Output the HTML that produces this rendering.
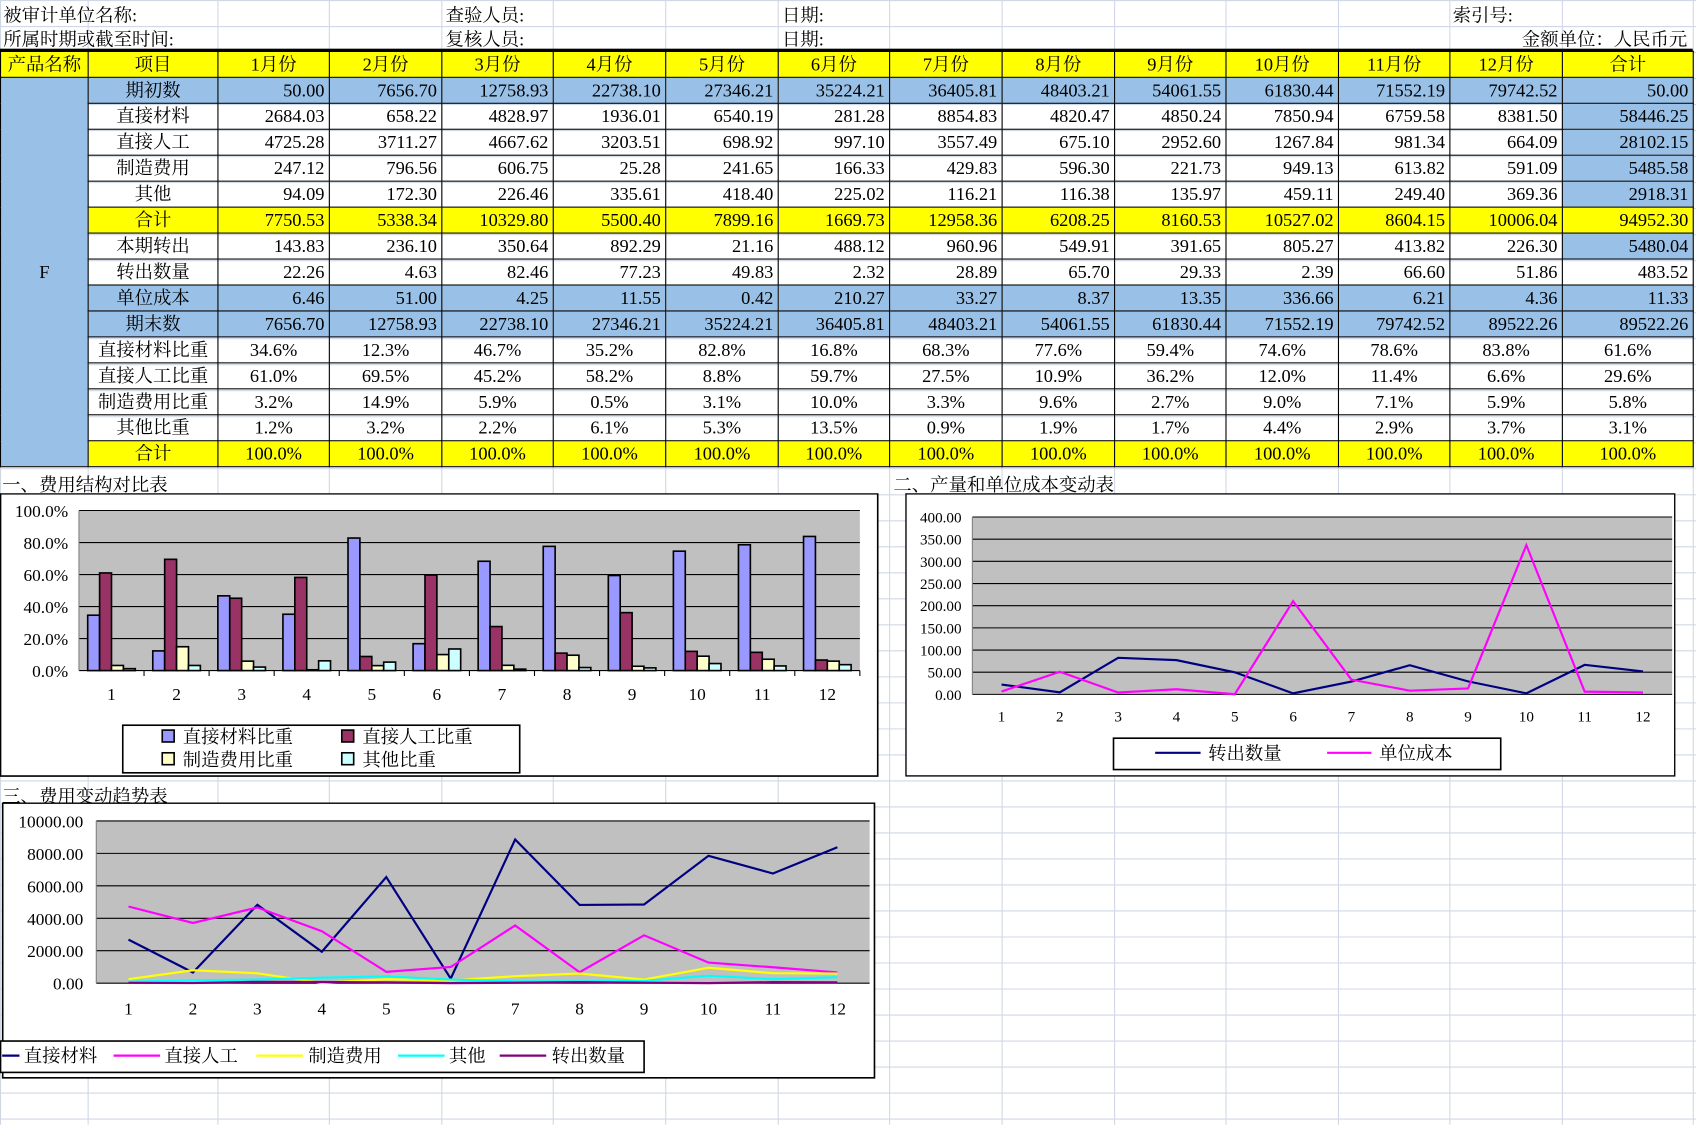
<!DOCTYPE html>
<html><head><meta charset="utf-8">
<style>
html,body{margin:0;padding:0;background:#fff;overflow:hidden;width:1696px;height:1125px}
#wrap{position:absolute;left:0;top:0;width:1568px;height:1040px;transform:scale(1.0816);transform-origin:0 0;font-family:"Liberation Serif","Noto Serif CJK SC",serif;font-size:17px;color:#000}
.abs{position:absolute;white-space:nowrap}
table{position:absolute;left:0;top:47px;border-collapse:collapse;table-layout:fixed}
td{border:1px solid #000;height:23px;padding:0 4px;font-size:17px;line-height:23px;overflow:hidden;white-space:nowrap;text-align:right}
td.c{text-align:center}
.y{background:#ffff00}.b{background:#99c0e6}
svg text{font-family:"Liberation Serif","Noto Serif CJK SC",serif}
</style></head><body>
<div id="wrap">
<svg id="grid" class="abs" style="left:0;top:0" width="1568" height="1040"></svg>
<div class="abs" style="left:3px;top:0px">被审计单位名称:</div>
<div class="abs" style="left:412px;top:0px">查验人员:</div>
<div class="abs" style="left:723px;top:0px">日期:</div>
<div class="abs" style="left:1343px;top:0px">索引号:</div>
<div class="abs" style="left:3px;top:22px">所属时期或截至时间:</div>
<div class="abs" style="left:412px;top:22px">复核人员:</div>
<div class="abs" style="left:723px;top:22px">日期:</div>
<div class="abs" style="right:8px;top:22px">金额单位：人民币元</div>
<div class="abs" style="left:0;top:45px;width:1565px;height:3px;background:#000"></div>
<table id="tbl"></table>

<div class="abs" style="left:2px;top:434px">一、费用结构对比表</div>
<svg id="c1" class="abs" style="left:0;top:456px" width="813" height="263"></svg>
<div class="abs" style="left:826px;top:434px">二、产量和单位成本变动表</div>
<svg id="c2" class="abs" style="left:837px;top:456px" width="712" height="262"></svg>
<div class="abs" style="left:2px;top:722px">三、费用变动趋势表</div>
<svg id="c3" class="abs" style="left:0;top:742px" width="810" height="256"></svg>
</div>
<script>
const months=["1月份","2月份","3月份","4月份","5月份","6月份","7月份","8月份","9月份","10月份","11月份","12月份"];
const opening=[50.00,7656.70,12758.93,22738.10,27346.21,35224.21,36405.81,48403.21,54061.55,61830.44,71552.19,79742.52];
const material=[2684.03,658.22,4828.97,1936.01,6540.19,281.28,8854.83,4820.47,4850.24,7850.94,6759.58,8381.50];
const labor=[4725.28,3711.27,4667.62,3203.51,698.92,997.10,3557.49,675.10,2952.60,1267.84,981.34,664.09];
const overhead=[247.12,796.56,606.75,25.28,241.65,166.33,429.83,596.30,221.73,949.13,613.82,591.09];
const other=[94.09,172.30,226.46,335.61,418.40,225.02,116.21,116.38,135.97,459.11,249.40,369.36];
const subtotal=[7750.53,5338.34,10329.80,5500.40,7899.16,1669.73,12958.36,6208.25,8160.53,10527.02,8604.15,10006.04];
const transferOut=[143.83,236.10,350.64,892.29,21.16,488.12,960.96,549.91,391.65,805.27,413.82,226.30];
const qtyOut=[22.26,4.63,82.46,77.23,49.83,2.32,28.89,65.70,29.33,2.39,66.60,51.86];
const unitCost=[6.46,51.00,4.25,11.55,0.42,210.27,33.27,8.37,13.35,336.66,6.21,4.36];
const closing=[7656.70,12758.93,22738.10,27346.21,35224.21,36405.81,48403.21,54061.55,61830.44,71552.19,79742.52,89522.26];
const matPct=[34.6,12.3,46.7,35.2,82.8,16.8,68.3,77.6,59.4,74.6,78.6,83.8];
const labPct=[61.0,69.5,45.2,58.2,8.8,59.7,27.5,10.9,36.2,12.0,11.4,6.6];
const ovhPct=[3.2,14.9,5.9,0.5,3.1,10.0,3.3,9.6,2.7,9.0,7.1,5.9];
const othPct=[1.2,3.2,2.2,6.1,5.3,13.5,0.9,1.9,1.7,4.4,2.9,3.7];
const totals=["50.00","58446.25","28102.15","5485.58","2918.31","94952.30","5480.04","483.52","11.33","89522.26","61.6%","29.6%","5.8%","3.1%","100.0%"];
const NS='http://www.w3.org/2000/svg';
const colW=[81,120,103,104,103,104,104,103,104,104,103,104,103,104,121];

const g=document.getElementById('grid');
function ln(svg,x1,y1,x2,y2,st,w){const l=document.createElementNS(NS,'line');l.setAttribute('x1',x1);l.setAttribute('y1',y1);l.setAttribute('x2',x2);l.setAttribute('y2',y2);l.setAttribute('stroke',st);l.setAttribute('stroke-width',w||1);svg.appendChild(l);return l;}
let cx=0;const xs=[0];colW.forEach(w=>{cx+=w;xs.push(cx)});
xs.forEach(x=>ln(g,x+0.5,0,x+0.5,1040,'#d0d7e5'));
for(let y=0;y<1040;y+=24.05)ln(g,0,y+0.5,1568,y+0.5,'#d0d7e5');

const t=document.getElementById('tbl');
const cg=document.createElement('colgroup');colW.forEach(w=>{const c=document.createElement('col');c.style.width=w+'px';cg.appendChild(c)});t.appendChild(cg);
function tr(){const r=document.createElement('tr');t.appendChild(r);return r;}
function td(r,txt,cls,name){const d=document.createElement('td');d.textContent=txt;d.className=cls||'';


r.appendChild(d);return d;}
let hr=tr();
td(hr,'产品名称','y c','header-product');td(hr,'项目','y c','header-item');
months.forEach((m,i)=>td(hr,m,'y c','header-month-'+(i+1)));td(hr,'合计','y c','header-total');
const rows=[['期初数',opening,'b','b'],['直接材料',material,'','b'],['直接人工',labor,'','b'],['制造费用',overhead,'','b'],['其他',other,'','b'],['合计',subtotal,'y','y'],['本期转出',transferOut,'','b'],['转出数量',qtyOut,'',''],['单位成本',unitCost,'b','b'],['期末数',closing,'b','b'],
['直接材料比重',matPct,'','','p'],['直接人工比重',labPct,'','','p'],['制造费用比重',ovhPct,'','','p'],['其他比重',othPct,'','','p'],['合计',matPct.map(()=>100),'y','y','p']];
rows.forEach((rw,ri)=>{const r=tr();
 if(ri===0){const a=td(r,'F','b c','product-f');a.rowSpan=15;}
 td(r,rw[0],(rw[2]||'')+' c','row-label-'+ri);
 rw[1].forEach((v,i)=>{td(r,rw[4]?v.toFixed(1)+'%':v.toFixed(2),rw[2]+(rw[4]?' c':''),'cell-r'+ri+'-m'+(i+1));});
 td(r,totals[ri],rw[3]+(rw[4]?' c':''),'total-r'+ri);
});
t.querySelectorAll('tr').forEach(r=>r.style.height='24px');

function txt(svg,x,y,s,anchor,size){const e=document.createElementNS(NS,'text');e.setAttribute('x',x);e.setAttribute('y',y);e.textContent=s;e.setAttribute('text-anchor',anchor||'start');e.setAttribute('font-size',size||16);svg.appendChild(e);return e;}
function rect(svg,x,y,w,h,f,s){const r=document.createElementNS(NS,'rect');r.setAttribute('x',x);r.setAttribute('y',y);r.setAttribute('width',w);r.setAttribute('height',h);r.setAttribute('fill',f);if(s){r.setAttribute('stroke',s);r.setAttribute('stroke-width',1.5);}svg.appendChild(r);return r;}
function poly(svg,pts,c){const p=document.createElementNS(NS,'polyline');p.setAttribute('points',pts.join(' '));p.setAttribute('fill','none');p.setAttribute('stroke',c);p.setAttribute('stroke-width',2);svg.appendChild(p);return p;}

(function(){const s=document.getElementById('c1');
rect(s,0.5,0.5,811,261,'#fff','#000');
const L=73,R=795,T=16,B=164,n=12,cw=(R-L)/n;
rect(s,L,T,R-L,B-T,'#c0c0c0');
const yv=v=>B-(v/100)*(B-T);
[0,20,40,60,80,100].forEach(v=>{ln(s,L,yv(v),R,yv(v),'#000');txt(s,L-10,yv(v)+6,v.toFixed(1)+'%','end',16);});
ln(s,L,T,L,B,'#808080');
const series=[matPct,labPct,ovhPct,othPct],cols=['#9999ff','#993366','#ffffcc','#ccffff'],names=['mat','lab','ovh','oth'];
for(let i=0;i<n;i++){const c0=L+i*cw+cw/2-22;
 series.forEach((sv,k)=>{const r=rect(s,c0+k*11,yv(sv[i]),11,B-yv(sv[i]),cols[k],'#000');
 
 });
 txt(s,L+i*cw+cw/2,191,String(i+1),'middle',16);
 ln(s,L+(i+1)*cw,B,L+(i+1)*cw,B+5,'#000');}
rect(s,113.5,214.5,367,44,'#fff','#000');
const lg=[['直接材料比重',150,225],['直接人工比重',316,225],['制造费用比重',150,246],['其他比重',316,246]];
lg.forEach((l,k)=>{const r=rect(s,l[1],l[2]-6,11,11,cols[k],'#000');txt(s,l[1]+19,l[2]+6,l[0],'start',17);});
})();

(function(){const s=document.getElementById('c2');
rect(s,0.5,0.5,711,261,'#fff','#000');
const L=62,R=709,T=22,B=186,n=12,cw=(R-L)/n;
rect(s,L,T,R-L,B-T,'#c0c0c0');
const yv=v=>B-(v/400)*(B-T);
for(let v=0;v<=400;v+=50){ln(s,L,yv(v),R,yv(v),'#000');txt(s,L-10,yv(v)+5,v.toFixed(2),'end',14);}
ln(s,L,T,L,B,'#808080');
const xv=i=>L+i*cw+cw/2;
for(let i=0;i<n;i++)txt(s,xv(i),211,String(i+1),'middle',14);
const p1=poly(s,qtyOut.map((v,i)=>xv(i)+','+yv(v)),'#000080');
const p2=poly(s,unitCost.map((v,i)=>xv(i)+','+yv(v)),'#ff00ff');
rect(s,192.5,226.5,358,29,'#fff','#000');
ln(s,231,240,273,240,'#000080',2);txt(s,280,246,'转出数量','start',17);
ln(s,390,240,431,240,'#ff00ff',2);txt(s,438,246,'单位成本','start',17);
})();

(function(){const s=document.getElementById('c3');
rect(s,2.5,0.5,806,254,'#fff','#000');
const L=89,R=804,T=17,B=167,n=12,cw=(R-L)/n;
rect(s,L,T,R-L,B-T,'#c0c0c0');
const yv=v=>B-(v/10000)*(B-T);
for(let v=0;v<=10000;v+=2000){ln(s,L,yv(v),R,yv(v),'#000');txt(s,L-12,yv(v)+6,v.toFixed(2),'end',16);}
ln(s,L,T,L,B,'#808080');
const xv=i=>L+i*cw+cw/2;
for(let i=0;i<n;i++)txt(s,xv(i),196,String(i+1),'middle',16);
const ser=[[material,'#000080','直接材料','mat'],[labor,'#ff00ff','直接人工','lab'],[overhead,'#ffff00','制造费用','ovh'],[other,'#00ffff','其他','oth'],[qtyOut,'#800080','转出数量','qty']];
ser.forEach(se=>{const p=poly(s,se[0].map((v,i)=>xv(i)+','+yv(v)),se[1]);});
rect(s,0.5,220.5,595,29,'#fff','#000');
const lx=[[2,18,22],[105,148,152],[237,280,285],[368,411,415],[462,505,510]];
ser.forEach((se,k)=>{ln(s,lx[k][0],234,lx[k][1],234,se[1],2);txt(s,lx[k][2],240,se[2],'start',17);});
})();
</script>
</body></html>
